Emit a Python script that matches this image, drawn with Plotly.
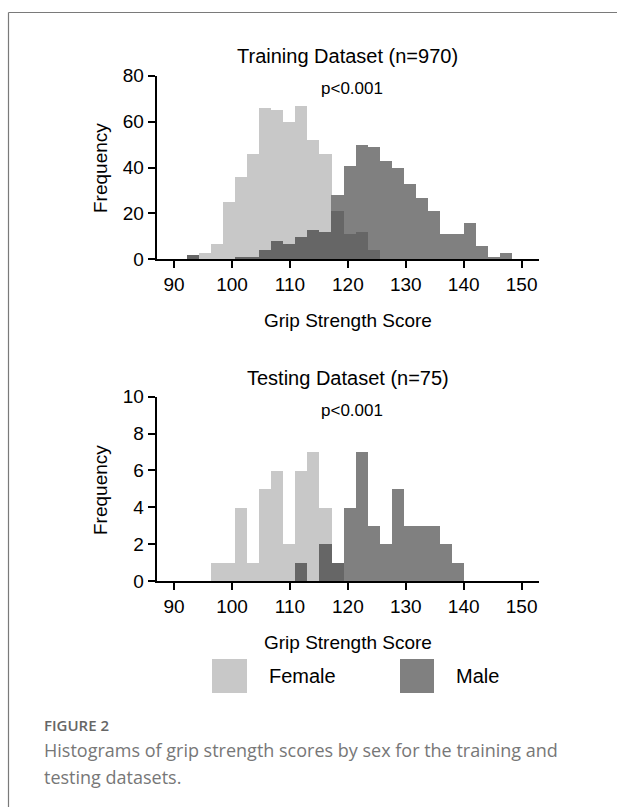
import plotly.graph_objects as go

# ---------------- data ----------------
bin_centers = [93.24, 95.31, 97.39, 99.47, 101.55, 103.62, 105.70, 107.78, 109.86,
               111.93, 114.01, 116.09, 118.16, 120.24, 122.32, 124.40, 126.47,
               128.55, 130.63, 132.71, 134.78, 136.86, 138.94, 141.01, 143.09,
               145.17, 147.25]
bin_width = 2.077

train_female = [2, 3, 7, 25, 36, 46, 66, 65, 60, 67, 52, 46, 21, 11, 12, 4,
                0, 0, 0, 0, 0, 0, 0, 0, 0, 0, 0]
train_male = [2, 0, 0, 0, 1, 1, 4, 8, 7, 10, 13, 12, 28, 41, 50, 49, 43, 40,
              33, 27, 21, 11, 11, 16, 6, 1, 3]
test_female = [0, 0, 1, 1, 4, 1, 5, 6, 2, 6, 7, 4, 1, 0, 0, 0, 0, 0, 0, 0,
               0, 0, 0, 0, 0, 0, 0]
test_male = [0, 0, 0, 0, 0, 0, 0, 0, 0, 1, 0, 2, 1, 4, 7, 3, 2, 5, 3, 3, 3,
             2, 1, 0, 0, 0, 0]

x_ticks = [90, 100, 110, 120, 130, 140, 150]
train_y_ticks = [0, 20, 40, 60, 80]
test_y_ticks = [0, 2, 4, 6, 8, 10]

train_title = "Training Dataset (n=970)"
test_title = "Testing Dataset (n=75)"
p_text = "p<0.001"
x_title = "Grip Strength Score"
y_title = "Frequency"
series_names = ["Female", "Male"]
caption_label = "FIGURE 2"
caption_lines = ["Histograms of grip strength scores by sex for the training and",
                 "testing datasets."]

# ---------------- style ----------------
W, H = 617, 807
FONT = "Liberation Sans, Arial, sans-serif"
FEMALE_COLOR = "#c8c8c8"
MALE_COLOR = "#808080"
OVERLAP_COLOR = "#666666"


def fx(px):
    return px / W


def fy(py):
    return 1 - py / H


fig = go.Figure()

for xa, ya, fem, mal in [("x", "y", train_female, train_male),
                         ("x2", "y2", test_female, test_male)]:
    overlap = [min(a, b) for a, b in zip(fem, mal)]
    fig.add_trace(go.Bar(x=bin_centers, y=fem, width=bin_width, xaxis=xa, yaxis=ya,
                         name=series_names[0], marker=dict(color=FEMALE_COLOR, line=dict(width=0)),
                         showlegend=False))
    fig.add_trace(go.Bar(x=bin_centers, y=mal, width=bin_width, xaxis=xa, yaxis=ya,
                         name=series_names[1], marker=dict(color=MALE_COLOR, line=dict(width=0)),
                         showlegend=False))
    fig.add_trace(go.Bar(x=bin_centers, y=overlap, width=bin_width, xaxis=xa, yaxis=ya,
                         name="Overlap", marker=dict(color=OVERLAP_COLOR, line=dict(width=0)),
                         showlegend=False, hoverinfo="skip"))

x_dom = [fx(156.7), fx(539)]
axis_common = dict(showgrid=False, zeroline=False, showline=True, linecolor="black",
                   linewidth=2, ticks="outside", ticklen=7, tickwidth=2, tickcolor="black",
                   tickfont=dict(family=FONT, size=19, color="black"), automargin=False,
                   fixedrange=True)

fig.update_layout(
    width=W, height=H,
    margin=dict(l=0, r=0, t=0, b=0),
    paper_bgcolor="white", plot_bgcolor="white",
    barmode="overlay", bargap=0,
    showlegend=False,
    xaxis=dict(domain=x_dom, range=[87, 153], tickvals=x_ticks, anchor="y", **axis_common),
    yaxis=dict(domain=[fy(259.3), fy(75.7)], range=[0, 80], tickvals=train_y_ticks,
               anchor="x", **axis_common),
    xaxis2=dict(domain=x_dom, range=[87, 153], tickvals=x_ticks, anchor="y2", **axis_common),
    yaxis2=dict(domain=[fy(581), fy(396.7)], range=[0, 10], tickvals=test_y_ticks,
                anchor="x2", **axis_common),
)

ann = []
cx = (156.7 + 539) / 2
black = dict(family=FONT, color="black")
for title, ytitle_c, p_c, xt_c, fr_c in [(train_title, 56, 89, 320, 168),
                                         (test_title, 378, 410, 642, 490)]:
    ann.append(dict(text=title, x=fx(cx), y=fy(ytitle_c), xref="paper", yref="paper",
                    showarrow=False, xanchor="center", yanchor="middle",
                    font=dict(size=20, **black)))
    ann.append(dict(text=p_text, x=fx(352), y=fy(p_c), xref="paper", yref="paper",
                    showarrow=False, xanchor="center", yanchor="middle",
                    font=dict(size=17, **black)))
    ann.append(dict(text=x_title, x=fx(cx), y=fy(xt_c), xref="paper", yref="paper",
                    showarrow=False, xanchor="center", yanchor="middle",
                    font=dict(size=19, **black)))
    ann.append(dict(text=y_title, x=fx(100), y=fy(fr_c), xref="paper", yref="paper",
                    showarrow=False, xanchor="center", yanchor="middle", textangle=-90,
                    font=dict(size=19, **black)))

# legend (drawn as swatches + labels)
shapes = []
for (x0, x1), col, label, tx in [((212, 247), FEMALE_COLOR, series_names[0], 267),
                                 ((400, 434), MALE_COLOR, series_names[1], 454)]:
    shapes.append(dict(type="rect", xref="paper", yref="paper", x0=fx(x0), x1=fx(x1),
                       y0=fy(693), y1=fy(659), fillcolor=col, line=dict(width=0)))
    ann.append(dict(text=label, x=fx(tx), y=fy(676), xref="paper", yref="paper",
                    showarrow=False, xanchor="left", yanchor="middle",
                    font=dict(size=20, **black)))

# frame border
shapes.append(dict(type="line", xref="paper", yref="paper", x0=fx(8.5), x1=1.0,
                   y0=fy(12.5), y1=fy(12.5), line=dict(color="#7a7a7a", width=1.2)))
shapes.append(dict(type="line", xref="paper", yref="paper", x0=fx(8.5), x1=fx(8.5),
                   y0=0, y1=fy(12.5), line=dict(color="#7a7a7a", width=1.2)))

CAP_FONT = "Open Sans, Noto Sans, sans-serif"
ann.append(dict(text=caption_label, x=fx(42), y=fy(725), xref="paper", yref="paper",
                showarrow=False, xanchor="left", yanchor="middle",
                font=dict(family=CAP_FONT, size=15, color="#666666", weight=600)))
for i, line in enumerate(caption_lines):
    ann.append(dict(text=line, x=fx(42), y=fy(750 + 27 * i), xref="paper", yref="paper",
                    showarrow=False, xanchor="left", yanchor="middle",
                    font=dict(family=CAP_FONT, size=18, color="#777777")))

fig.update_layout(annotations=ann, shapes=shapes)

fig.write_html("out.html", config={"displayModeBar": False},
               post_script="document.body.style.margin='0';")
